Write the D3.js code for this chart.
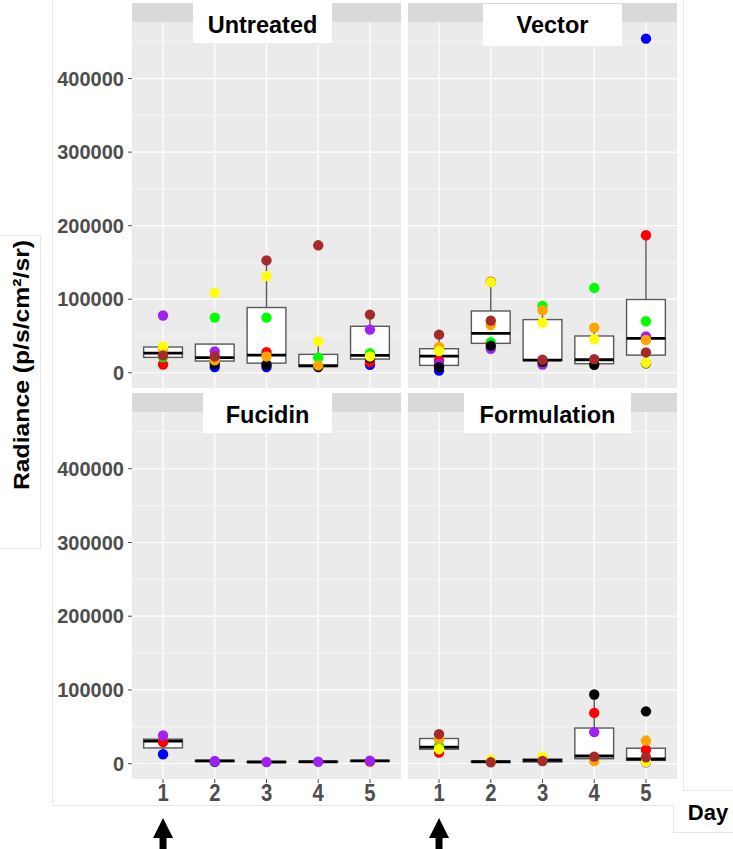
<!DOCTYPE html>
<html><head><meta charset="utf-8">
<script src="https://cdn.jsdelivr.net/npm/d3@7/dist/d3.min.js"></script>
<style>body{margin:0;background:#fff}</style>
</head><body>
<svg id="c" width="733" height="849"></svg>
<script>
// ---------- DATA ----------
const panels = ["Untreated", "Vector", "Fucidin", "Formulation"];
const days = ["1", "2", "3", "4", "5"];
const yTicks = [0, 100000, 200000, 300000, 400000];
const yMinor = [50000, 150000, 250000, 350000, 450000];
const colorOrder = ["blue", "red", "green", "purple", "black", "orange", "yellow", "brown"];
const colorHex = {blue:"#0000ff", red:"#ff0000", green:"#00ff00", purple:"#a020f0",
  black:"#000000", orange:"#ffa500", yellow:"#ffff00", brown:"#a52a2a"};

// box stats per day: [q1, median, q3, whiskerLow, whiskerHigh]
const untreatedBoxes = [
  [20900, 26700, 35000, 11300, 35900],
  [15900, 20500, 39000, 7700, 39000],
  [13100, 24000, 88700, 7700, 152800],
  [8600, 9500, 25000, 7700, 42700],
  [18600, 23600, 63200, 10900, 79100]];
const vectorBoxes = [
  [10000, 22700, 32700, 3100, 51800],
  [40000, 53600, 84000, 32700, 123200],
  [16800, 17200, 72300, 11300, 90900],
  [12300, 17700, 50000, 10900, 61400],
  [24000, 46800, 99600, 13600, 186900]];
const fucidinBoxes = [
  [21400, 30600, 33300, 12800, 38300],
  [3000, 3800, 4500, 2500, 4500],
  [2000, 2300, 2800, 2000, 2800],
  [2300, 2700, 3000, 2300, 3000],
  [3300, 3900, 4500, 3000, 4500]];
const formulationBoxes = [
  [19700, 22400, 34200, 15000, 40100],
  [2000, 2700, 3500, 1900, 5000],
  [2300, 4600, 6400, 2300, 9600],
  [6800, 10500, 48400, 3700, 93900],
  [4600, 6400, 21000, 2000, 31400]];

// points: [day, colour, radiance]
const untreatedPoints = [
  ["1","purple",77800],["1","yellow",35900],["1","orange",31400],["1","green",21300],["1","brown",23600],["1","red",11300],
  ["2","yellow",108600],["2","green",75000],["2","purple",29000],["2","brown",22200],["2","orange",16800],["2","black",12300],["2","blue",7700],
  ["3","brown",152800],["3","yellow",131400],["3","green",75000],["3","red",28100],["3","orange",22200],["3","black",11300],["3","blue",7700],
  ["4","brown",173300],["4","yellow",42700],["4","green",20500],["4","orange",10000],["4","black",7700],
  ["5","brown",79100],["5","purple",58700],["5","green",26700],["5","yellow",22200],["5","black",20000],["5","red",14500],["5","blue",10900]];
const vectorPoints = [
  ["1","brown",51800],["1","orange",35000],["1","yellow",29500],["1","red",16800],["1","purple",12300],["1","black",7700],["1","blue",3100],
  ["2","red",123700],["2","yellow",123200],["2","brown",70900],["2","orange",65000],["2","green",41700],["2","black",36800],["2","purple",32700],
  ["3","green",90900],["3","orange",85000],["3","yellow",68200],["3","brown",17700],["3","black",15000],["3","purple",11300],
  ["4","green",115400],["4","orange",61400],["4","yellow",45800],["4","brown",18600],["4","black",10900],
  ["5","blue",454300],["5","red",186900],["5","green",70000],["5","purple",49500],["5","orange",44500],["5","brown",27700],["5","black",13000],["5","yellow",13600]];
const fucidinPoints = [
  ["1","purple",38300],["1","red",29200],["1","blue",12800],
  ["2","blue",2500],["2","purple",3700],
  ["3","purple",2300],
  ["4","purple",2700],
  ["5","red",3000],["5","purple",4100]];
const formulationPoints = [
  ["1","red",15000],["1","green",24200],["1","yellow",19700],["1","orange",33300],["1","brown",40100],
  ["2","yellow",5000],["2","brown",1900],
  ["3","yellow",9600],["3","orange",8000],["3","brown",3700],
  ["4","orange",3700],["4","purple",42900],["4","red",68900],["4","black",93900],["4","brown",9600],
  ["5","purple",2000],["5","yellow",2700],["5","brown",8700],["5","red",18700],["5","orange",31400],["5","black",71000]];

const panelBoxes = [untreatedBoxes, vectorBoxes, fucidinBoxes, formulationBoxes];
const panelPoints = [untreatedPoints, vectorPoints, fucidinPoints, formulationPoints];

// ---------- LAYOUT ----------
const svg = d3.select("#c");
const colX = [132, 408], panelW = 269;
const rowStrip = [3, 393], stripH = 19;
const rowTop = [22, 412], panelH = [366, 367];
const labelBoxes = [[193, 332, 3, 43], [483, 622, 4, 46], [203, 332, 393, 433], [464, 631, 393, 433]];
const frame = "#e6e6e6";

// y domain: ggplot-like 5% expansion of the data range
const allVals = panelPoints.flat().map(d => d[2]).concat(panelBoxes.flat(2));
const vmin = d3.min(allVals), vmax = d3.max(allVals), pad = (vmax - vmin) * 0.05;

// outer decorations
svg.append("line").attr("x1",52.5).attr("x2",52.5).attr("y1",0).attr("y2",805.5).attr("stroke",frame);
svg.append("line").attr("x1",52).attr("x2",673).attr("y1",805.5).attr("y2",805.5).attr("stroke",frame);
svg.append("line").attr("x1",683.5).attr("x2",683.5).attr("y1",0).attr("y2",790.5).attr("stroke",frame);
svg.append("line").attr("x1",683).attr("x2",733).attr("y1",790.5).attr("y2",790.5).attr("stroke",frame);
svg.append("line").attr("x1",673.5).attr("x2",673.5).attr("y1",805).attr("y2",832.5).attr("stroke",frame);
svg.append("line").attr("x1",673).attr("x2",733).attr("y1",832.5).attr("y2",832.5).attr("stroke",frame);
svg.append("rect").attr("x",-1).attr("y",235.5).attr("width",41.5).attr("height",313).attr("fill","#fff").attr("stroke",frame);

panels.forEach((name, i) => {
  const c = i % 2, r = Math.floor(i / 2);
  const x0 = colX[c], y0 = rowTop[r], h = panelH[r];
  const x = d3.scalePoint().domain(days).range([x0, x0 + panelW]).padding(0.6);
  const y = d3.scaleLinear().domain([vmin - pad, vmax + pad]).range([y0 + h, y0]);
  const step = x.step(), bw = step * 0.75;
  const g = svg.append("g");

  g.append("rect").attr("x", x0).attr("y", y0).attr("width", panelW).attr("height", h).attr("fill", "#ebebeb");
  g.append("rect").attr("x", x0).attr("y", rowStrip[r]).attr("width", panelW).attr("height", stripH).attr("fill", "#d9d9d9");

  // grid
  g.selectAll(".mn").data(yMinor).join("line")
    .attr("x1", x0).attr("x2", x0 + panelW).attr("y1", d => y(d)).attr("y2", d => y(d))
    .attr("stroke", "#fff").attr("stroke-width", 0.6);
  g.selectAll(".mj").data(yTicks).join("line")
    .attr("x1", x0).attr("x2", x0 + panelW).attr("y1", d => y(d)).attr("y2", d => y(d))
    .attr("stroke", "#fff").attr("stroke-width", 1.2);
  g.selectAll(".vx").data(days).join("line")
    .attr("x1", d => x(d)).attr("x2", d => x(d)).attr("y1", y0).attr("y2", y0 + h)
    .attr("stroke", "#fff").attr("stroke-width", 1.2);

  // boxes
  const boxes = panelBoxes[i];
  boxes.forEach((b, k) => {
    const cx = x(days[k]);
    const [q1, md, q3, lo, hi] = b;
    g.append("line").attr("x1", cx).attr("x2", cx).attr("y1", y(q3)).attr("y2", y(hi)).attr("stroke", "#595959").attr("stroke-width", 1.4);
    g.append("line").attr("x1", cx).attr("x2", cx).attr("y1", y(q1)).attr("y2", y(lo)).attr("stroke", "#595959").attr("stroke-width", 1.4);
    g.append("rect").attr("x", cx - bw / 2).attr("y", y(q3)).attr("width", bw).attr("height", Math.max(0.5, y(q1) - y(q3)))
      .attr("fill", "#fff").attr("stroke", "#595959").attr("stroke-width", 1.4);
    g.append("line").attr("x1", cx - bw / 2).attr("x2", cx + bw / 2).attr("y1", y(md)).attr("y2", y(md)).attr("stroke", "#000").attr("stroke-width", 2.8);
  });

  // points
  const pts = panelPoints[i].slice().sort((a, b) => colorOrder.indexOf(a[1]) - colorOrder.indexOf(b[1]));
  g.selectAll(".pt").data(pts).join("circle")
    .attr("cx", d => x(d[0])).attr("cy", d => y(d[2])).attr("r", 5.2)
    .attr("fill", d => colorHex[d[1]]);

  // strip label
  const lb = labelBoxes[i];
  g.append("rect").attr("x", lb[0]).attr("y", lb[2]).attr("width", lb[1] - lb[0]).attr("height", lb[3] - lb[2]).attr("fill", "#fff");
  g.append("text").attr("x", (lb[0] + lb[1]) / 2).attr("y", rowStrip[r] + 29.5)
    .attr("text-anchor", "middle").attr("font-family", "Liberation Sans, Arial, sans-serif")
    .attr("font-weight", "bold").attr("font-size", 23.5).attr("fill", "#000").text(name);

  // y axis (left column)
  if (c === 0) {
    g.selectAll(".yt").data(yTicks).join("line")
      .attr("x1", x0 - 4).attr("x2", x0).attr("y1", d => y(d)).attr("y2", d => y(d)).attr("stroke", "#4d4d4d").attr("stroke-width", 1);
    g.selectAll(".yl").data(yTicks).join("text")
      .attr("x", x0 - 8).attr("y", d => y(d)).attr("dy", "0.36em").attr("text-anchor", "end")
      .attr("font-family", "Liberation Sans, Arial, sans-serif").attr("font-weight", "bold")
      .attr("font-size", 20).attr("fill", "#4d4d4d").text(d => d3.format("d")(d));
  }
  // x axis (bottom row)
  if (r === 1) {
    g.selectAll(".xt").data(days).join("line")
      .attr("x1", d => x(d)).attr("x2", d => x(d)).attr("y1", y0 + h).attr("y2", y0 + h + 4).attr("stroke", "#4d4d4d");
    g.selectAll(".xl").data(days).join("text")
      .attr("transform", d => `translate(${x(d)},801) scale(0.88,1)`).attr("text-anchor", "middle")
      .attr("font-family", "Liberation Sans, Arial, sans-serif").attr("font-weight", "bold")
      .attr("font-size", 23).attr("fill", "#4d4d4d").text(d => d);
    // arrow under day 1
    const ax = x(days[0]);
    g.append("path").attr("d", `M${ax},818 L${ax + 10},838 L${ax + 3.5},838 L${ax + 3.5},849 L${ax - 3.5},849 L${ax - 3.5},838 L${ax - 10},838 Z`).attr("fill", "#000");
  }
});

// axis titles
svg.append("text").attr("transform", "translate(29,365) rotate(-90)").attr("text-anchor", "middle")
  .attr("font-family", "Liberation Sans, Arial, sans-serif").attr("font-weight", "bold").attr("font-size", 22)
  .attr("textLength", 250).attr("lengthAdjust", "spacingAndGlyphs").attr("fill", "#000")
  .text("Radiance (p/s/cm²/sr)");
svg.append("text").attr("x", 708).attr("y", 820).attr("text-anchor", "middle")
  .attr("font-family", "Liberation Sans, Arial, sans-serif").attr("font-weight", "bold").attr("font-size", 22)
  .attr("fill", "#000").text("Day");
</script>
</body></html>
